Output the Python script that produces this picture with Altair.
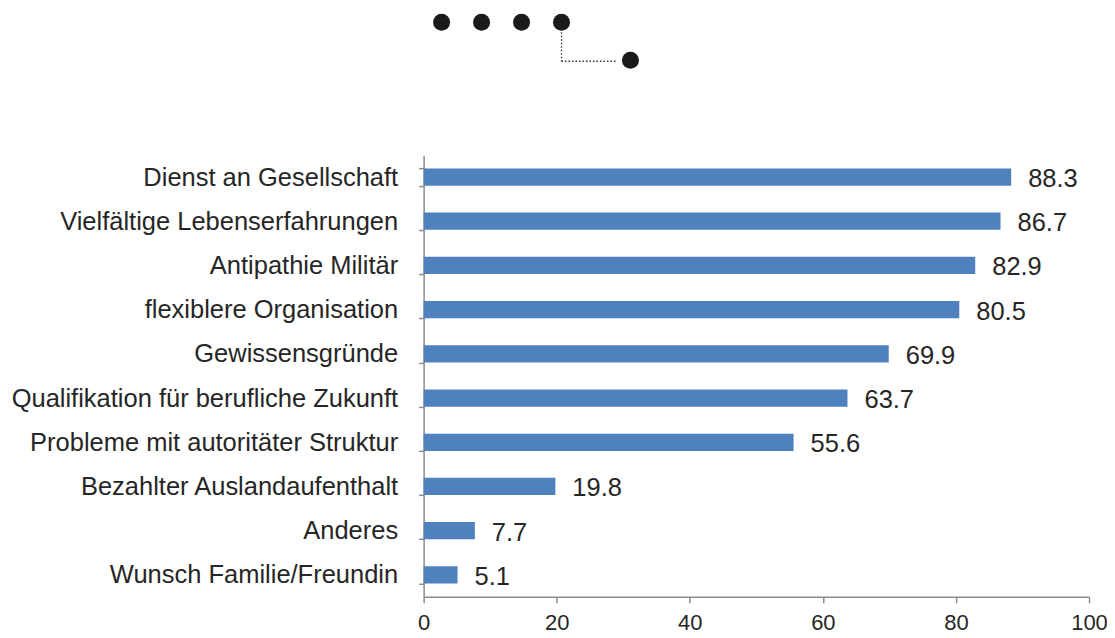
import altair as alt
import pandas as pd

categories = [
    "Dienst an Gesellschaft",
    "Vielfältige Lebenserfahrungen",
    "Antipathie Militär",
    "flexiblere Organisation",
    "Gewissensgründe",
    "Qualifikation für berufliche Zukunft",
    "Probleme mit autoritäter Struktur",
    "Bezahlter Auslandaufenthalt",
    "Anderes",
    "Wunsch Familie/Freundin",
]
values = [88.3, 86.7, 82.9, 80.5, 69.9, 63.7, 55.6, 19.8, 7.7, 5.1]
x_ticks = [0, 20, 40, 60, 80, 100]

df = pd.DataFrame({"cat": categories, "val": values})
df["lab"] = [f"{v:.1f}" for v in values]

FONT = "Liberation Sans"
TXT = "#262626"
AX = "#8c8c8c"

y_enc = alt.Y("cat:N", sort=categories, title=None,
              scale=alt.Scale(paddingInner=0.61, paddingOuter=0.3),
              axis=alt.Axis(tickBand="extent", domainColor=AX, tickColor=AX,
                            domainWidth=1.5, tickWidth=1.5, tickSize=5,
                            labelPadding=21, labelFontSize=25.5, labelColor=TXT,
                            labelFont=FONT, labelLimit=600))
x_enc = alt.X("val:Q", title=None,
              scale=alt.Scale(domain=[0, 100], nice=False),
              axis=alt.Axis(values=x_ticks, grid=False, domainColor=AX, tickColor=AX,
                            domainWidth=1.5, tickWidth=1.5, tickSize=6,
                            labelPadding=10, labelFontSize=22, labelColor=TXT,
                            labelFont=FONT, labelFlush=False))

bars = alt.Chart(df).mark_bar(color="#4f81bd").encode(x=x_enc, y=y_enc)
labels = alt.Chart(df).mark_text(align="left", baseline="middle", dx=17, dy=2,
                                 fontSize=25.5, font=FONT, color=TXT).encode(
    x="val:Q", y=alt.Y("cat:N", sort=categories), text="lab:N")

# decorative logo (outside plot area)
logo_layers = []
for lx, ly in [(18, -133), (58, -133), (98, -133), (138, -133), (207, -95)]:
    logo_layers.append(
        alt.Chart(df.head(1)).mark_circle(color="#1a1a1a", opacity=1, size=290).encode(
            x=alt.value(lx), y=alt.value(ly)))
logo_layers.append(
    alt.Chart(df.head(1)).mark_rule(color="#333", strokeDash=[1.5, 2], strokeWidth=1.3).encode(
        x=alt.value(138), y=alt.value(-123), y2=alt.value(-94)))
logo_layers.append(
    alt.Chart(df.head(1)).mark_rule(color="#333", strokeDash=[1.5, 2], strokeWidth=1.3).encode(
        x=alt.value(138), x2=alt.value(192), y=alt.value(-94)))

chart = alt.layer(bars, labels, *logo_layers).properties(
    width=666, height=442,
    autosize=alt.AutoSizeParams(type="none"),
    padding={"left": 416, "top": 147, "right": 18, "bottom": 40},
    background="white",
).configure_view(stroke=None)

chart.save("out.html", embed_options={"renderer": "svg", "actions": False})
